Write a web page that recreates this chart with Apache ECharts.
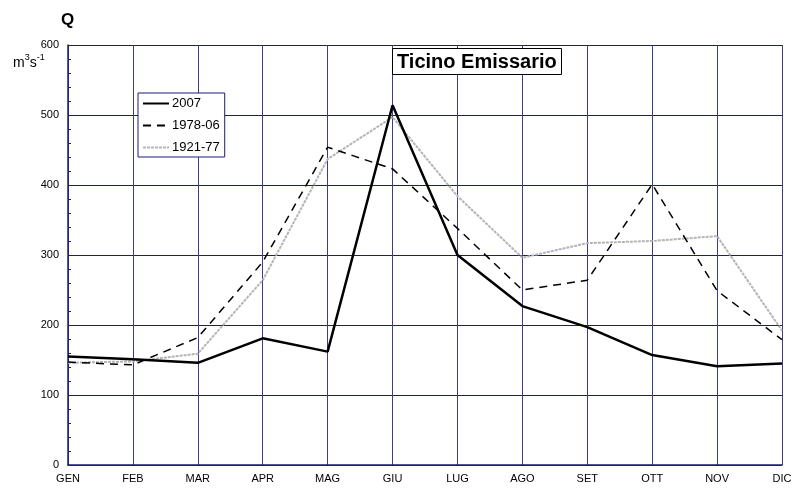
<!DOCTYPE html>
<html><head><meta charset="utf-8">
<script src="https://cdn.jsdelivr.net/npm/echarts@6/dist/echarts.min.js"></script>
<style>html,body{margin:0;padding:0;background:#fff}#c{width:795px;height:490px}</style>
</head><body><div id="c"></div>
<script>
var months = ['GEN','FEB','MAR','APR','MAG','GIU','LUG','AGO','SET','OTT','NOV','DIC'];
var s2007 = [155,151,146,181,162,514,300,227,197,157,141,145];
var s1978 = [147,143,182,290,454,423,338,250,264,401,249,179];
var s1921 = [146,148,159,264,437,497,384,296,317,320,327,192];
var yTicks = [0,100,200,300,400,500,600];

var navy = '#1c1c78';
var font = 'Liberation Sans, Arial, sans-serif';
var chart = echarts.init(document.getElementById('c'));
chart.setOption({
  animation: false,
  backgroundColor: '#fff',
  title: {
    text: 'Ticino Emissario',
    left: 392, top: 48,
    padding: [4, 5, 3, 5],
    borderColor: '#000', borderWidth: 1, backgroundColor: '#fff',
    textStyle: {fontFamily: font, fontWeight: 'bold', fontSize: 20, color: '#000', lineHeight: 20}
  },
  legend: {
    orient: 'vertical', left: 138, top: 93,
    padding: [4, 5, 3, 4],
    itemWidth: 26, itemHeight: 12, itemGap: 9,
    borderColor: navy, borderWidth: 1, backgroundColor: '#fff',
    itemStyle: {opacity: 0},
    textStyle: {fontFamily: font, fontSize: 13, color: '#000', padding: [0,0,0,-2]},
    data: ['2007','1978-06','1921-77']
  },
  graphic: [
    {type: 'text', left: 61, top: 12, style: {text: 'Q', font: 'bold 17px ' + font, fill: '#000'}},
    {type: 'text', left: 13, top: 53, style: {
      text: '{b|m}{s|3}{b|s}{s|-1}',
      rich: {
        b: {fontFamily: font, fontSize: 14, color: '#000', verticalAlign: 'bottom', lineHeight: 17},
        s: {fontFamily: font, fontSize: 9, color: '#000', verticalAlign: 'top', lineHeight: 10}
      }
    }}
  ],
  grid: {left: 68, right: 13, top: 45, bottom: 25, containLabel: false},
  xAxis: {
    type: 'category', data: months, boundaryGap: false,
    axisLine: {lineStyle: {color: navy, width: 1.5}},
    axisTick: {show: false},
    axisLabel: {fontFamily: font, fontSize: 11, color: '#000', margin: 8},
    splitLine: {show: true, lineStyle: {color: '#3c3c8c', width: 1}}
  },
  yAxis: {
    type: 'value', min: 0, max: 600, interval: 100,
    axisLine: {show: true, lineStyle: {color: navy, width: 1.5}},
    axisTick: {show: true, inside: true, length: 3, lineStyle: {color: navy}},
    minorTick: {show: true, splitNumber: 5, length: 3, lineStyle: {color: navy}},
    axisLabel: {fontFamily: font, fontSize: 11, color: '#000', margin: 9,
      formatter: function (v) { return yTicks.indexOf(v) >= 0 ? String(v) : ''; }},
    splitLine: {show: true, lineStyle: {color: navy, width: 1}}
  },
  series: [
    {name: '2007', type: 'line', data: s2007, symbol: 'none', z: 5,
      lineStyle: {color: '#000', width: 2.5}, itemStyle: {color: '#000'}},
    {name: '1978-06', type: 'line', data: s1978, symbol: 'none', z: 4,
      lineStyle: {color: '#000', width: 1.5, type: [8, 6]}, itemStyle: {color: '#000'}},
    {name: '1921-77', type: 'line', data: s1921, symbol: 'none', z: 3,
      lineStyle: {color: '#b4b4b4', width: 2, type: [3, 1]}, itemStyle: {color: '#b4b4b4'}}
  ]
});
</script></body></html>
